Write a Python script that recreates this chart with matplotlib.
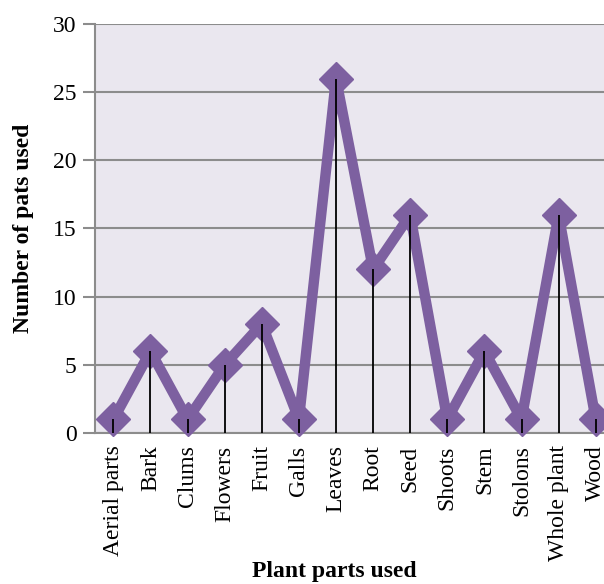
import matplotlib
matplotlib.use("Agg")
import matplotlib.pyplot as plt

parts = ["Aerial parts", "Bark", "Clums", "Flowers", "Fruit", "Galls", "Leaves",
         "Root", "Seed", "Shoots", "Stem", "Stolons", "Whole plant", "Wood"]
counts = [1, 6, 1, 5, 8, 1, 26, 12, 16, 1, 6, 1, 16, 1]
y_ticks = [0, 5, 10, 15, 20, 25, 30]

plt.rcParams["font.family"] = ["Liberation Serif", "DejaVu Serif"]

fig = plt.figure(figsize=(6.04, 5.84), dpi=100)
ax = fig.add_axes([0.157, 0.2586, 0.86, 0.7003])
ax.set_facecolor("#EAE7EF")

x = list(range(len(parts)))
ax.plot(x, counts, color="#7D60A0", linewidth=7.5, marker="D", markersize=17,
        markerfacecolor="#7D60A0", markeredgecolor="#7D60A0", solid_joinstyle="round",
        zorder=3, clip_on=False)
ax.vlines(x, 0, counts, color="black", linewidth=1.3, zorder=4)

ax.set_xlim(-0.5, len(parts) - 0.5)
ax.set_ylim(0, 30)
ax.set_yticks(y_ticks)
ax.set_xticks(x)
ax.set_xticklabels(parts, rotation=90, fontsize=17)
ax.tick_params(axis="y", labelsize=17, length=9, width=1.5, color="#8C8C8C", pad=4)
ax.tick_params(axis="x", length=0, pad=9)
ax.yaxis.grid(True, color="#8C8C8C", linewidth=1.5)
ax.set_axisbelow(True)

for side in ["top", "right"]:
    ax.spines[side].set_visible(False)
for side in ["left", "bottom"]:
    ax.spines[side].set_color("#8C8C8C")
    ax.spines[side].set_linewidth(1.5)

# x title sits just under the rotated labels, near the bottom edge
fig.text(0.553, 0.021, "Plant parts used", fontsize=17, fontweight="bold",
         ha="center", va="center")
ax.set_ylabel("Number of pats used", fontsize=17, fontweight="bold", labelpad=14)

fig.savefig("out.png", dpi=100)
